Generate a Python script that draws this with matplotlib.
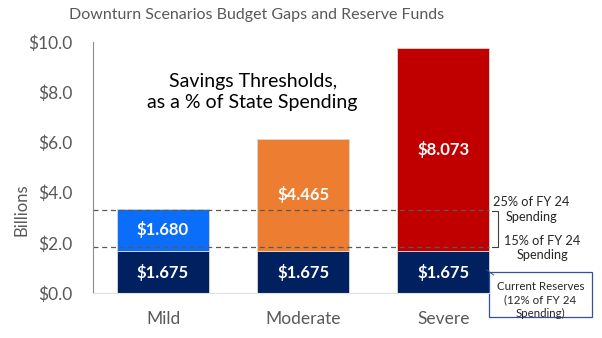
import matplotlib.pyplot as plt
from matplotlib.patches import Rectangle

plt.rcParams['font.family'] = ['Lato', 'DejaVu Sans']

scenarios = ['Mild', 'Moderate', 'Severe']
reserves = [1.675, 1.675, 1.675]
gaps = [1.680, 4.465, 8.073]
gap_colors = ['#0A6EFA', '#ED7D31', '#C00000']
reserve_color = '#002060'
thresholds = [3.31, 1.84]   # 25% and 15% of FY 24 spending
threshold_labels = ['25% of FY 24\nSpending', '15% of FY 24\nSpending']

fig = plt.figure(figsize=(6.02, 3.38), dpi=100)
ax = fig.add_axes([0.1545, 0.133, 0.698, 0.743])

x = range(len(scenarios))
ax.bar(x, reserves, width=0.66, color=reserve_color, edgecolor='#D9D9D9', linewidth=0.6)
ax.bar(x, gaps, width=0.66, bottom=reserves, color=gap_colors, edgecolor='#D9D9D9', linewidth=0.6)

for i in x:
    ax.text(i, reserves[i] / 2, f'${reserves[i]:.3f}', ha='center', va='center',
            color='white', fontsize=12, fontweight='bold')
    ax.text(i, reserves[i] + gaps[i] / 2, f'${gaps[i]:.3f}', ha='center', va='center',
            color='white', fontsize=12, fontweight='bold')

for t in thresholds:
    ax.plot([-0.5, 2.33], [t, t], color='#595959', linestyle=(0, (4, 3)), linewidth=0.9)

ax.set_xlim(-0.5, 2.5)
ax.set_ylim(0, 10)
ax.set_yticks([0, 2, 4, 6, 8, 10])
ax.set_yticklabels([f'${v:.1f}' for v in [0, 2, 4, 6, 8, 10]], fontsize=12.5, color='#595959')
ax.set_xticks(list(x))
ax.set_xticklabels(scenarios, fontsize=12.5, color='#595959')
ax.tick_params(length=0)
ax.tick_params(axis='x', pad=13)
ax.tick_params(axis='y', pad=15)
ax.set_ylabel('Billions', fontsize=12, color='#595959')
ax.yaxis.set_label_coords(-0.15, 0.33)

for s in ['top', 'right']:
    ax.spines[s].set_visible(False)
ax.spines['left'].set_color('#8C8C8C')
ax.spines['left'].set_linewidth(0.8)
ax.spines['bottom'].set_color('#E0E0E0')
ax.spines['bottom'].set_linewidth(0.8)
ax.spines['bottom'].set_bounds(-0.5, 2.33)

fig.text(0.426, 0.955, 'Downturn Scenarios Budget Gaps and Reserve Funds',
         ha='center', va='center', fontsize=11.5, color='#595959')

ax.text(0.64, 8.0, 'Savings Thresholds,\nas a % of State Spending', ha='center', va='center',
        fontsize=14, color='black', linespacing=1.3)

# bracket between the two threshold lines
ax.plot([2.35, 2.39, 2.39, 2.35], [3.25, 3.25, 1.83, 1.83],
        color='#404040', linewidth=0.8, clip_on=False)

ax.text(2.63, 3.33, threshold_labels[0], ha='center', va='center', fontsize=9.2,
        color='#262626', linespacing=1.25, clip_on=False)
ax.text(2.71, 1.79, threshold_labels[1], ha='center', va='center', fontsize=9.2,
        color='#262626', linespacing=1.25, clip_on=False)

# callout box for current reserves
box = Rectangle((2.33, -0.96), 0.73, 1.8, facecolor='white', edgecolor='#2F5597',
                linewidth=0.9, clip_on=False)
ax.add_patch(box)
ax.plot([2.31, 2.36], [0.92, 0.72], color='#2F5597', linewidth=0.7, clip_on=False)
ax.text(2.695, -0.28, 'Current Reserves\n(12% of FY 24\nSpending)', ha='center', va='center',
        fontsize=8.3, color='#262626', linespacing=1.3, clip_on=False)

fig.savefig('out.png', dpi=100)
